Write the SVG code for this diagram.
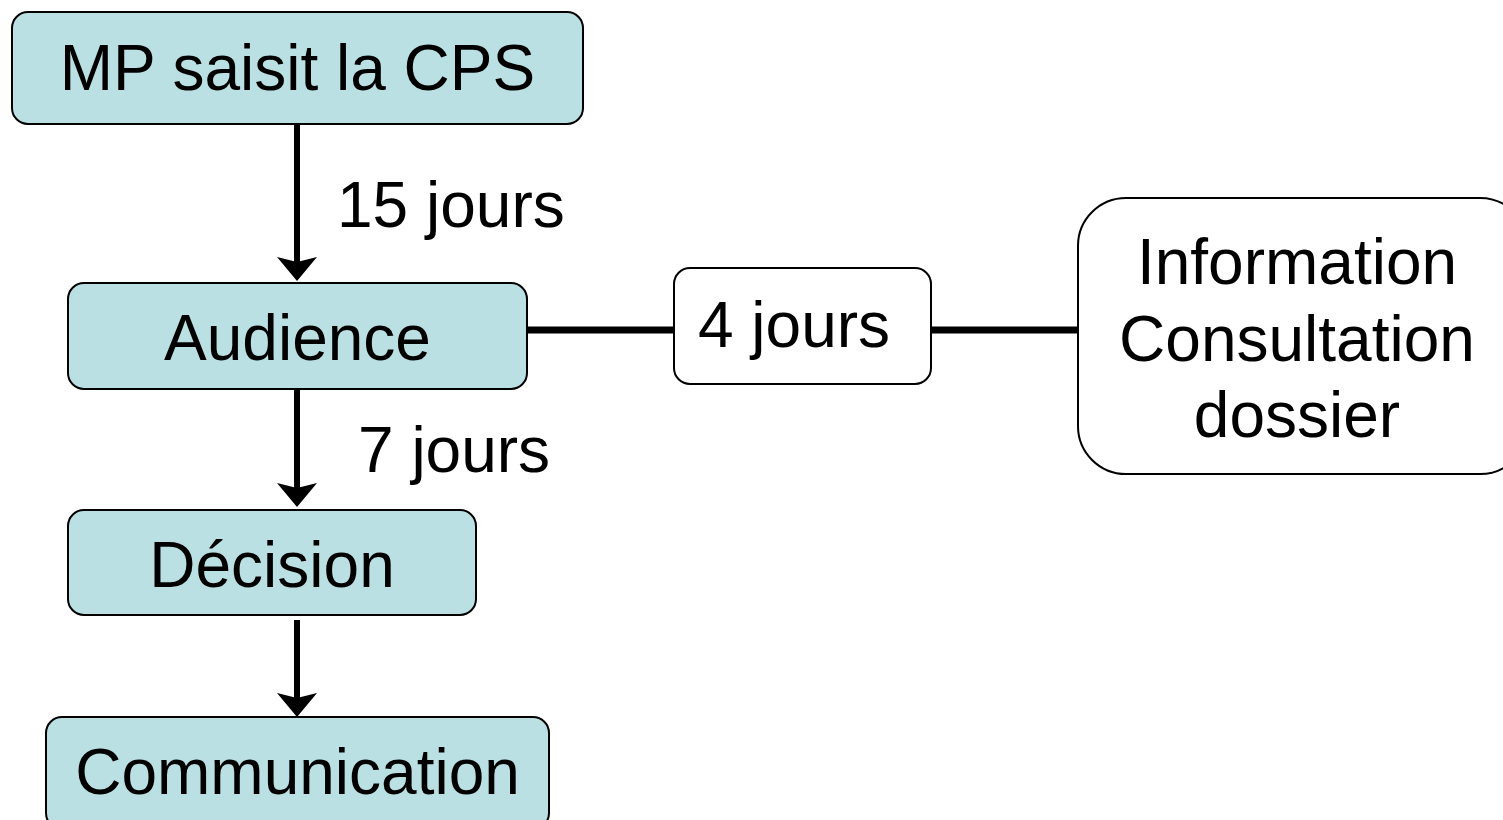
<svg xmlns="http://www.w3.org/2000/svg" width="1503" height="820" viewBox="0 0 1503 820">
  <style>
    .step { fill: #BBE0E3; stroke: #000; stroke-width: 2; }
    .plain { fill: #FFFFFF; stroke: #000; stroke-width: 2; }
    .lbl { font-family: "Liberation Sans", Arial, sans-serif; font-size: 64px; fill: #000; }
    .mid { text-anchor: middle; }
    .flow { stroke: #000; stroke-width: 6; fill: none; }
    .link { stroke: #000; stroke-width: 7; fill: none; }
  </style>
  <defs>
    <!-- arrowhead: 24 long, 40 wide; line ends at the notch, tip extends 19 beyond -->
    <marker id="head" viewBox="0 0 24 40" refX="5" refY="20" markerWidth="24" markerHeight="40" markerUnits="userSpaceOnUse" orient="auto">
      <path d="M0,0 L24,20 L0,40 L5,20 Z" fill="#000"/>
    </marker>
  </defs>
  <rect width="1503" height="820" fill="#FFFFFF"/>

  <g id="connectors">
    <line class="flow" x1="297" y1="124" x2="297" y2="262" marker-end="url(#head)"/>
    <line class="flow" x1="297" y1="389" x2="297" y2="488" marker-end="url(#head)"/>
    <line class="flow" x1="297" y1="620" x2="297" y2="698" marker-end="url(#head)"/>
    <line class="link" x1="527" y1="330" x2="674" y2="330"/>
    <line class="link" x1="931" y1="330" x2="1078" y2="330"/>
    <text class="lbl" x="337" y="227">15 jours</text>
    <text class="lbl" x="358" y="472">7 jours</text>
  </g>

  <g id="node-saisine">
    <rect class="step" x="12" y="12" width="571" height="112" rx="16"/>
    <text class="lbl mid" x="297.5" y="90">MP saisit la CPS</text>
  </g>

  <g id="node-audience">
    <rect class="step" x="68" y="283" width="459" height="106" rx="16"/>
    <text class="lbl mid" x="297.5" y="360">Audience</text>
  </g>

  <g id="node-decision">
    <rect class="step" x="68" y="510" width="408" height="105" rx="16"/>
    <text class="lbl mid" x="272" y="587">Décision</text>
  </g>

  <g id="node-communication">
    <rect class="step" x="46" y="717" width="503" height="112" rx="16"/>
    <text class="lbl mid" x="297.5" y="794">Communication</text>
  </g>

  <g id="node-delai">
    <rect class="plain" x="674" y="268" width="257" height="116" rx="16"/>
    <text class="lbl mid" x="794" y="347">4 jours</text>
  </g>

  <g id="node-information">
    <rect class="plain" x="1078" y="198" width="450" height="276" rx="48"/>
    <text class="lbl mid" x="1297" y="284">Information</text>
    <text class="lbl mid" x="1297" y="361">Consultation</text>
    <text class="lbl mid" x="1297" y="437">dossier</text>
  </g>
</svg>
